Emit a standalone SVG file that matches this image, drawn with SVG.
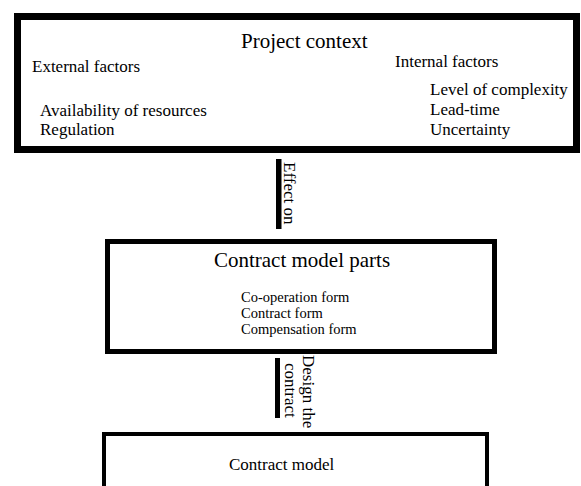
<svg xmlns="http://www.w3.org/2000/svg" width="581" height="486" viewBox="0 0 581 486">
<style>
text { font-family: "Liberation Serif", "Times New Roman", serif; fill: #000; }
.box { fill: #fff; stroke: #000; }
.title { font-size: 21px; }
.item { font-size: 17px; }
.small { font-size: 14.5px; }
.bar { fill: #000; }
</style>
<rect width="581" height="486" fill="#fff"/>
<g id="project-context">
<rect class="box" x="17.5" y="16.5" width="559" height="133" stroke-width="7"/>
<text class="title" x="241" y="48">Project context</text>
<text class="item" x="32" y="72">External factors</text>
<text class="item" x="40" y="116">Availability of resources</text>
<text class="item" x="40" y="135">Regulation</text>
<text class="item" x="395" y="67">Internal factors</text>
<text class="item" x="430" y="95">Level of complexity</text>
<text class="item" x="430" y="115">Lead-time</text>
<text class="item" x="430" y="135">Uncertainty</text>
</g>
<g id="contract-model-parts">
<rect class="box" x="107.5" y="241.5" width="387" height="110" stroke-width="5"/>
<text class="title" x="302" y="267" text-anchor="middle">Contract model parts</text>
<text class="small" x="241" y="302">Co-operation form</text>
<text class="small" x="241" y="318">Contract form</text>
<text class="small" x="241" y="334">Compensation form</text>
</g>
<g id="contract-model">
<rect class="box" x="104" y="434" width="383" height="70" stroke-width="4"/>
<text class="item" x="229" y="470">Contract model</text>
</g>
<g id="connectors">
<rect class="bar" x="276" y="159" width="5.5" height="70"/>
<text class="item" transform="translate(284,162) rotate(90)">Effect on</text>
<rect class="bar" x="275" y="358" width="5" height="60"/>
<text class="item" transform="translate(303,355) rotate(90)">Design the</text>
<text class="item" transform="translate(285,363) rotate(90)">contract</text>
</g>
</svg>
